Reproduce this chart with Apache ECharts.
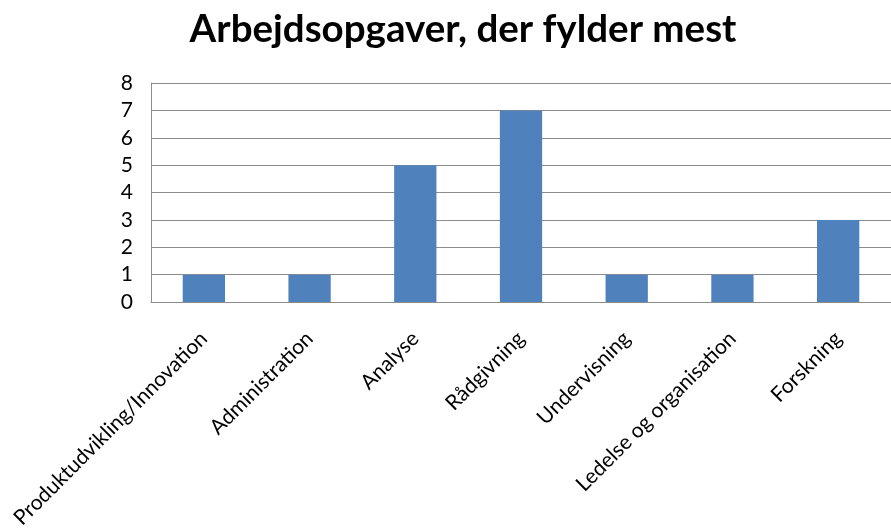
<!DOCTYPE html>
<html>
<head>
<meta charset="utf-8">
<script src="https://cdn.jsdelivr.net/npm/echarts@6/dist/echarts.min.js"></script>
<style>
  html, body { margin: 0; padding: 0; background: #fff; }
  #chart { width: 891px; height: 531px; }
</style>
</head>
<body>
<div id="chart"></div>
<script>
// data
const categories = [
    "Produktudvikling/Innovation",
    "Administration",
    "Analyse",
    "Rådgivning",
    "Undervisning",
    "Ledelse og organisation",
    "Forskning"
];
const values = [1, 1, 5, 7, 1, 1, 3];
const yTicks = [0, 1, 2, 3, 4, 5, 6, 7, 8];

const fontFamily = "Lato, 'Open Sans', sans-serif";

const chart = echarts.init(document.getElementById("chart"));

const options = {
    animation: false,
    title: {
        text: "Arbejdsopgaver, der fylder mest",
        left: 458,
        top: 5,
        textAlign: "center",
        textStyle: {
            fontFamily,
            fontSize: 38.5,
            fontWeight: "bold",
            color: "#000"
        }
    },
    grid: {
        left: 151,
        right: 0,
        top: 83,
        bottom: 228
    },
    xAxis: {
        type: "category",
        data: categories,
        axisLine: { lineStyle: { color: "#8c8c8c", width: 1 } },
        axisTick: { show: false },
        axisLabel: {
            interval: 0,
            rotate: 45,
            margin: 33,
            fontFamily,
            fontSize: 21,
            color: "#000"
        }
    },
    yAxis: {
        type: "value",
        min: yTicks[0],
        max: yTicks[yTicks.length - 1],
        interval: 1,
        axisLine: { show: true, lineStyle: { color: "#8c8c8c", width: 1 } },
        axisTick: { show: false },
        splitLine: { lineStyle: { color: "#8c8c8c", width: 1 } },
        axisLabel: {
            margin: 18,
            fontFamily,
            fontSize: 21,
            color: "#000"
        }
    },
    series: [
        {
            type: "bar",
            data: values,
            barWidth: "40%",
            itemStyle: { color: "#4f81bd" }
        }
    ]
};

chart.setOption(options);
</script>
</body>
</html>
